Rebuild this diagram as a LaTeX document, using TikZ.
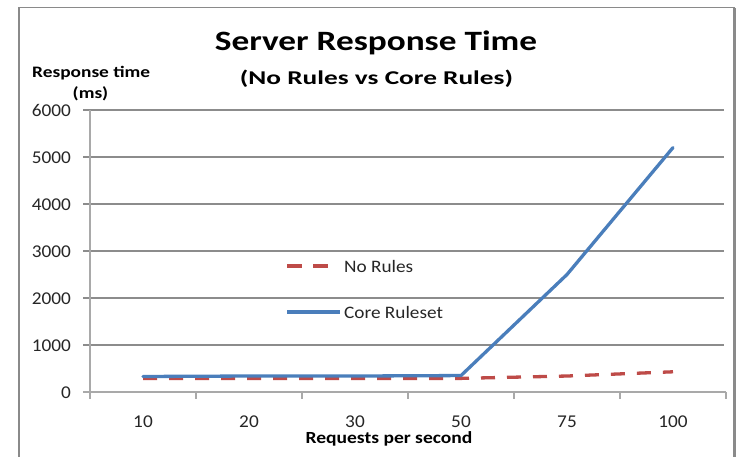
\documentclass[tikz,border=0pt]{standalone}
\usepackage{fontspec}
\setmainfont{Carlito}
% widened cuts of the same family, one per text role
\newfontfamily\ftitle{Carlito}[FakeStretch=1.26]
\newfontfamily\fsub{Carlito}[FakeStretch=1.4]
\newfontfamily\faxis{Carlito}[FakeStretch=1.21]
\newfontfamily\fxaxis{Carlito}[FakeStretch=1.15]
\newfontfamily\ftick{Carlito}[FakeStretch=1.07]
\newfontfamily\flegend{Carlito}[FakeStretch=1.1]
\definecolor{serblue}{HTML}{4A7EBB}
\definecolor{serred}{HTML}{BE4B48}
\definecolor{gridgray}{HTML}{8C8C8C}
\definecolor{framegray}{HTML}{8A8A8A}
\begin{document}
\begin{tikzpicture}[x=1pt,y=-1pt,
  gridline/.style={gridgray,line width=1.1pt},
  axisline/.style={gridgray!75,line width=1.3pt},
  coreline/.style={serblue,line width=3.3pt,line join=round,line cap=round},
  norules/.style={serred,line width=3.3pt,dash pattern=on 14pt off 12pt},
  ticklab/.style={font=\ftick\fontsize{18}{18}\selectfont,inner sep=0pt,text=black!85},
  legendlab/.style={font=\flegend\fontsize{17.5}{18}\selectfont,inner sep=0pt,anchor=base west,text=black!85},
  axistitle/.style={font=\faxis\bfseries\fontsize{16}{16}\selectfont,inner sep=0pt}]
\useasboundingbox (0,0) rectangle (739,457);
\fill[white] (0,0) rectangle (739,457);

% chart frame (open at the bottom edge)
\draw[framegray,line width=1.6pt] (19,457) -- (19,7.5) -- (734,7.5) -- (734,457);
\draw[framegray,line width=1.2pt] (735.3,8) -- (735.3,457);

% titles
\node[font=\ftitle\bfseries\fontsize{28}{28}\selectfont,inner sep=0pt,anchor=base] (title) at (376,51) {Server Response Time};
\node[font=\fsub\bfseries\fontsize{19.5}{20}\selectfont,inner sep=0pt,anchor=base] (subtitle) at (376.5,84.3) {(No Rules vs Core Rules)};
\node[axistitle,anchor=base west] (ytitle) at (32,78) {Response time};
\node[axistitle,anchor=base] (yunit) at (90.5,99) {(ms)};
\node[font=\fxaxis\bfseries\fontsize{17}{17}\selectfont,inner sep=0pt,anchor=base] (xtitle) at (389,443) {Requests per second};

% horizontal gridlines and y tick labels
\foreach \v in {1,...,6}{
  \draw[gridline] (83,392-47*\v) -- (724,392-47*\v);
}
\foreach \v/\t in {0/0,1/1000,2/2000,3/3000,4/4000,5/5000,6/6000}{
  \node[ticklab,anchor=base east] (ylab\v) at (71,392-47*\v+6.2) {\t};
}

% axes
\draw[axisline] (90,110) -- (90,392);
\draw[axisline] (83,392) -- (726,392);
\foreach \i in {0,...,6}{
  \draw[axisline] (90+106*\i,392) -- (90+106*\i,398.5);
}

% category labels
\foreach \i/\t in {0/10,1/20,2/30,3/50,4/75,5/100}{
  \node[ticklab,anchor=base] (xlab\i) at (143+106*\i,427) {\t};
}

% data points
\foreach \i/\v in {0/330,1/340,2/340,3/350,4/2500,5/5200}{
  \coordinate (c\i) at (143+106*\i,392-0.047*\v);
}
\foreach \i/\v in {0/290,1/290,2/290,3/290,4/340,5/430}{
  \coordinate (n\i) at (143+106*\i,392-0.047*\v);
}

% series
\draw[norules] (n0) -- (n1) -- (n2) -- (n3) -- (n4) -- (n5);
\draw[coreline] (c0) -- (c1) -- (c2) -- (c3) -- (c4) -- (c5);

% legend
\coordinate (la) at (287,266);
\coordinate (lb) at (329,266);
\coordinate (lc) at (287,312);
\coordinate (ld) at (340,312);
\draw[serred,line width=3.3pt,dash pattern=on 15pt off 11pt] (la) -- (lb);
\draw[coreline,line cap=butt] (lc) -- (ld);
\node[legendlab] (leg1) at (344,272.5) {No Rules};
\node[legendlab] (leg2) at (344,318) {Core Ruleset};
\end{tikzpicture}
\end{document}
